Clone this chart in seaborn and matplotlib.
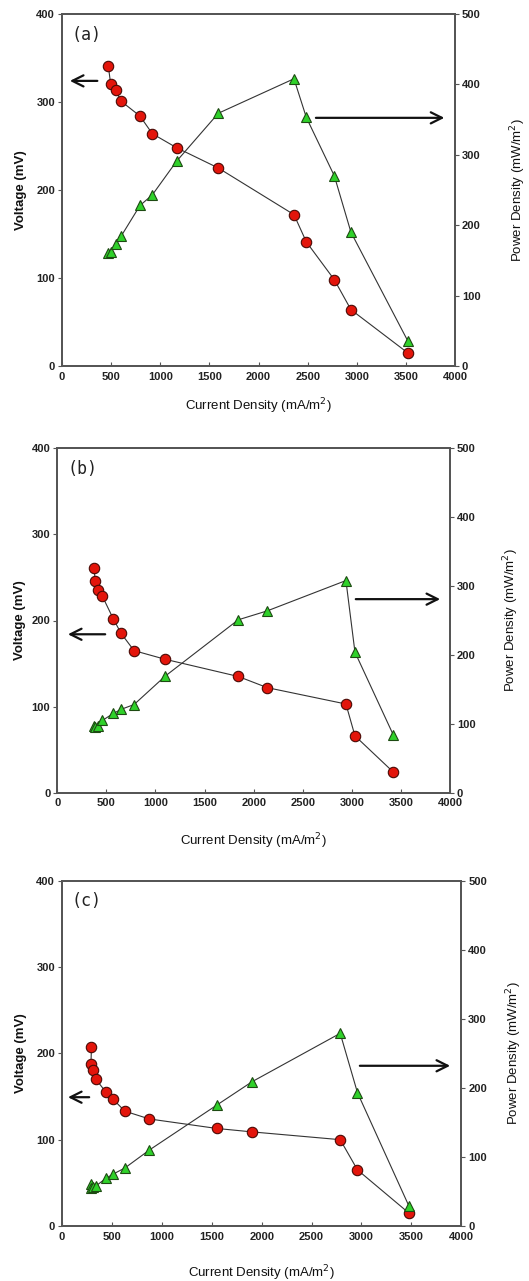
import numpy as np
import pandas as pd
import seaborn as sns
import matplotlib.pyplot as plt

# panel (a)
cur_a = [471, 496, 546, 600, 794, 919, 1167, 1591, 2361, 2487, 2772, 2941, 3518]
volt_a = [341, 320, 314, 301, 284, 264, 248, 225, 172, 141, 98, 64, 15]
pow_a = [160, 162, 174, 184, 228, 243, 291, 359, 408, 353, 270, 190, 36]

# panel (b)
cur_b = [372, 388, 412, 460, 570, 650, 782, 1097, 1843, 2139, 2940, 3032, 3422]
volt_b = [261, 246, 235, 228, 202, 185, 165, 155, 135, 122, 103, 66, 24]
pow_b = [97, 95, 97, 105, 115, 121, 128, 169, 251, 264, 308, 204, 84]

# panel (c)
cur_c = [295, 290, 313, 340, 440, 510, 630, 875, 1550, 1905, 2787, 2960, 3475]
volt_c = [207, 188, 181, 170, 155, 147, 133, 124, 113, 109, 100, 65, 15]
pow_c = [61, 55, 57, 58, 69, 75, 84, 110, 175, 209, 279, 193, 29]

panel_names = ["(a)", "(b)", "(c)"]
x_ticks = [0, 500, 1000, 1500, 2000, 2500, 3000, 3500, 4000]
v_ticks = [0, 100, 200, 300, 400]
p_ticks = [0, 100, 200, 300, 400, 500]

sns.set_style("ticks")
plt.rcParams['font.family'] = ['Liberation Sans', 'DejaVu Sans']

W, H = 529, 1281
fig = plt.figure(figsize=(W / 100, H / 100), dpi=100)

# axes boxes in pixels: left, right, top, bottom
boxes = [(62, 455, 14, 366), (57.3, 450, 448.3, 792.7), (62, 461.3, 880.7, 1226)]
# label offsets (axes fraction): xlabel y, left ylabel x, right ylabel x
lab_pos = [(-0.085, -0.089, 1.135), (-0.111, -0.08, 1.13), (-0.107, -0.088, 1.109)]
# arrows in axes fraction: (tail, head, y) left, right
arrows = [((0.097, 0.013, 0.81), (0.639, 0.98, 0.705)),
          ((0.129, 0.02, 0.46), (0.753, 0.982, 0.562)),
          ((0.075, 0.008, 0.373), (0.739, 0.979, 0.464))]

data = [(cur_a, volt_a, pow_a), (cur_b, volt_b, pow_b), (cur_c, volt_c, pow_c)]

spine_col = "#555555"
for i, ((l, r, t, b), (cur, volt, pw)) in enumerate(zip(boxes, data)):
    ax = fig.add_axes([l / W, (H - b) / H, (r - l) / W, (b - t) / H])
    ax2 = ax.twinx()
    df = pd.DataFrame({"cur": cur, "volt": volt, "pow": pw})

    sns.lineplot(data=df, x="cur", y="volt", ax=ax, sort=False, estimator=None,
                 color="#333333", lw=0.8, marker="o", markersize=7.5,
                 markerfacecolor="#e3150b", markeredgecolor="#4a0a05",
                 markeredgewidth=0.8, zorder=3)
    sns.lineplot(data=df, x="cur", y="pow", ax=ax2, sort=False, estimator=None,
                 color="#333333", lw=0.8, marker="^", markersize=7.5,
                 markerfacecolor="#2fd12a", markeredgecolor="#1d4a12",
                 markeredgewidth=0.8, zorder=3)

    ax.set_xlim(0, 4000)
    ax.set_ylim(0, 400)
    ax2.set_ylim(0, 500)
    ax.set_xticks(x_ticks)
    ax.set_yticks(v_ticks)
    ax2.set_yticks(p_ticks)

    for a in (ax, ax2):
        for s in a.spines.values():
            s.set_visible(True)
            s.set_color(spine_col)
            s.set_linewidth(1.3)
        a.tick_params(axis="y", direction="out", length=3, width=0.8,
                      color=spine_col, labelsize=8, pad=2)
    ax.tick_params(axis="x", direction="in", length=3, width=0.8,
                   color=spine_col, labelsize=8, pad=4)
    for lab in ax.get_xticklabels() + ax.get_yticklabels() + ax2.get_yticklabels():
        lab.set_fontweight("bold")
        lab.set_color("#222222")

    ax.set_xlabel("Current Density (mA/m$^2$)", fontsize=9.5, color="#111111")
    ax.set_ylabel("Voltage (mV)", fontsize=9.5, fontweight="bold", color="#111111")
    ax2.set_ylabel("Power Density (mW/m$^2$)", fontsize=9.5, color="#111111")
    xl, yl, yr = lab_pos[i]
    ax.xaxis.set_label_coords(0.5, xl)
    ax.yaxis.set_label_coords(yl, 0.5)
    ax2.yaxis.set_label_coords(yr, 0.5)

    ax.text(0.025, 0.94, panel_names[i], transform=ax.transAxes, fontsize=12,
            ha="left", va="center", color="#222222", family="DejaVu Sans Mono")

    (lt, lh, ly), (rt, rh, ry) = arrows[i]
    for tail, head, y in ((lt, lh, ly), (rt, rh, ry)):
        ax.annotate("", xy=(head, y), xytext=(tail, y), xycoords="axes fraction",
                    arrowprops=dict(arrowstyle="->", color="#111111", lw=1.6,
                                    mutation_scale=20))

fig.savefig("out.png", dpi=100)
